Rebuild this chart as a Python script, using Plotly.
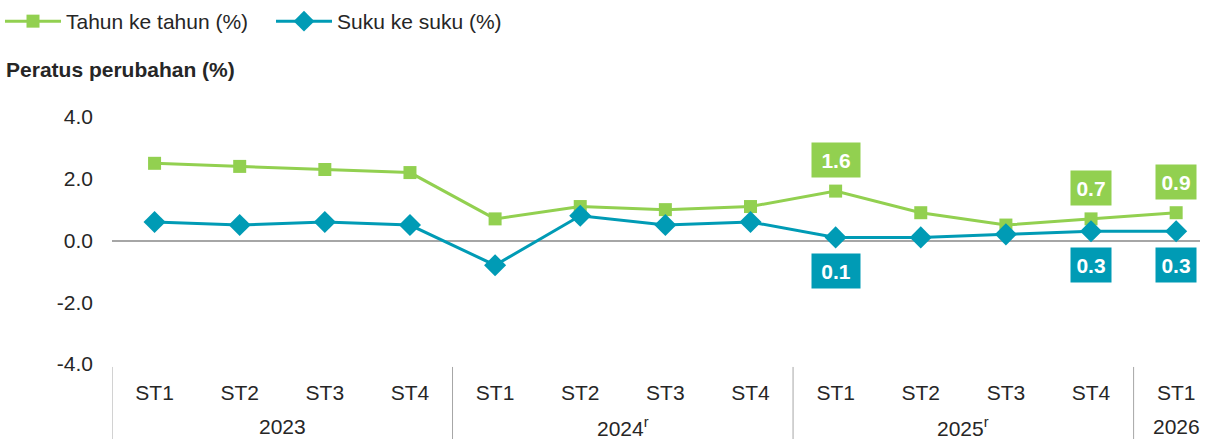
import plotly.graph_objects as go

quarters = ["ST1", "ST2", "ST3", "ST4", "ST1", "ST2", "ST3", "ST4",
            "ST1", "ST2", "ST3", "ST4", "ST1"]
years = ["2023", "2024<sup>r</sup>", "2025<sup>r</sup>", "2026"]
year_quarter_counts = [4, 4, 4, 1]
yoy = [2.5, 2.4, 2.3, 2.2, 0.7, 1.1, 1.0, 1.1, 1.6, 0.9, 0.5, 0.7, 0.9]
qoq = [0.6, 0.5, 0.6, 0.5, -0.8, 0.8, 0.5, 0.6, 0.1, 0.1, 0.2, 0.3, 0.3]
yoy_labelled = [8, 11, 12]
qoq_labelled = [8, 11, 12]
y_ticks = [-4, -2, 0, 2, 4]
y_ticktext = ["-4.0", "-2.0", "0.0", "2.0", "4.0"]

GREEN = "#92D050"
BLUE = "#009BB5"
GREY = "#A6A6A6"
TEXT = "#262626"
FONT = "Liberation Sans, Arial, sans-serif"
FS = 21

xs = list(range(len(quarters)))

fig = go.Figure()
fig.add_trace(go.Scatter(
    x=xs, y=yoy, name="Tahun ke tahun (%)", mode="lines+markers",
    line=dict(color=GREEN, width=3),
    marker=dict(symbol="square", size=13, color=GREEN),
))
fig.add_trace(go.Scatter(
    x=xs, y=qoq, name="Suku ke suku (%)", mode="lines+markers",
    line=dict(color=BLUE, width=3),
    marker=dict(symbol="diamond", size=17, color=BLUE),
))

annotations = []
for i in yoy_labelled:
    w = 46 if i == 8 else 38
    annotations.append(dict(
        x=i, y=yoy[i], xref="x", yref="y", text=f"<b>{yoy[i]:.1f}</b>",
        showarrow=False, yshift=31, bgcolor=GREEN, width=w, height=32,
        font=dict(color="white", size=FS, family=FONT),
    ))
for i in qoq_labelled:
    w = 46 if i == 8 else 38
    annotations.append(dict(
        x=i, y=qoq[i], xref="x", yref="y", text=f"<b>{qoq[i]:.1f}</b>",
        showarrow=False, yshift=-34, bgcolor=BLUE, width=w, height=32,
        font=dict(color="white", size=FS, family=FONT),
    ))

shapes = []
start = 0
for yr, n in zip(years, year_quarter_counts):
    center = start + (n - 1) / 2
    annotations.append(dict(
        x=center, y=-0.255, xref="x", yref="paper", text=yr,
        showarrow=False, yanchor="middle",
        font=dict(color=TEXT, size=FS, family=FONT),
    ))
    shapes.append(dict(type="line", xref="x", yref="paper",
                       x0=start - 0.5, x1=start - 0.5, y0=-0.012, y1=-0.31,
                       line=dict(color=GREY, width=1)))
    start += n

fig.update_layout(
    width=1208, height=439,
    margin=dict(l=112, r=8, t=117, b=75),
    paper_bgcolor="white", plot_bgcolor="white",
    font=dict(family=FONT, size=FS, color=TEXT),
    title=dict(text="<b>Peratus perubahan (%)</b>", xref="container",
               yref="container", x=0.005, xanchor="left",
               y=1 - 70 / 439, yanchor="middle",
               font=dict(size=FS, color=TEXT, family=FONT)),
    legend=dict(orientation="h", xref="container", yref="container",
                x=0.0, y=1 - 1 / 439, xanchor="left", yanchor="top",
                font=dict(size=FS, color=TEXT, family=FONT),
                itemwidth=56, entrywidth=200, entrywidthmode="pixels",
                tracegroupgap=0),
    showlegend=True,
    annotations=annotations,
    shapes=shapes,
)
fig.update_xaxes(
    range=[-0.5, 12.28], tickvals=xs, ticktext=quarters,
    showgrid=False, zeroline=False, showline=False, ticks="",
    ticklabelstandoff=14, automargin=False,
    tickfont=dict(size=FS, color=TEXT, family=FONT),
)
fig.update_yaxes(
    range=[-4, 4], tickvals=y_ticks, ticktext=y_ticktext,
    showgrid=False, zeroline=True, zerolinecolor=GREY, zerolinewidth=1.5,
    showline=False, ticks="", ticklabelstandoff=18, automargin=False,
    tickfont=dict(size=FS, color=TEXT, family=FONT),
)

fig.write_html("out.html",
               config={"displayModeBar": False},
               post_script="document.body.style.margin='0';"
                           "document.body.style.padding='0';")
